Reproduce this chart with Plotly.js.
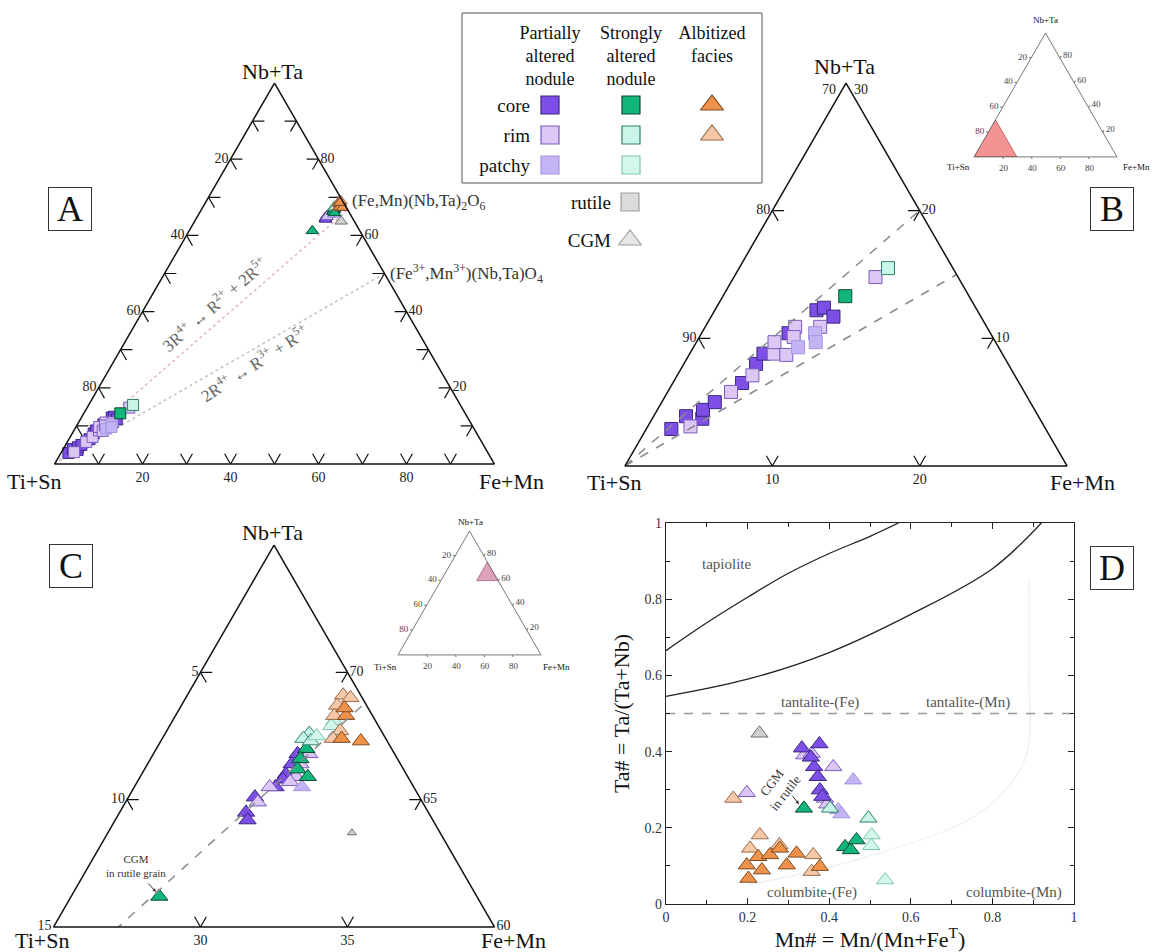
<!DOCTYPE html>
<html><head><meta charset="utf-8">
<script src="https://cdn.plot.ly/plotly-3.0.1.min.js"></script>
<style>html,body{margin:0;padding:0;background:#fff}#chart{width:1154px;height:952px}
#chart svg text{font-family:'Liberation Serif','Times New Roman',serif !important}</style>
</head><body><div id="chart"></div>
<script>
// ===================== DATA =====================
// Rutile (squares), at.% Nb+Ta / Ti+Sn / Fe+Mn  (panels A and B)
const rutPCoreNbTa = [2.9, 3.9, 3.7, 4.4, 5.0, 6.5, 8.0, 8.8, 10.4, 12.2, 12.4, 11.7];
const rutPCoreTiSn = [95.4, 93.9, 92.9, 92.5, 91.4, 88.8, 87.1, 86.2, 83.7, 80.9, 80.3, 80.0];
const rutPCoreFeMn = [1.7, 2.2, 3.4, 3.1, 3.6, 4.7, 4.9, 5.0, 5.9, 6.9, 7.3, 8.3];
const rutPRimNbTa = [3.1, 5.8, 7.1, 8.8, 9.7, 8.7, 10.9, 10.1, 10.9, 14.8];
const rutPRimTiSn = [94.0, 89.9, 87.8, 85.5, 85.0, 84.7, 83.0, 83.5, 81.3, 75.6];
const rutPRimFeMn = [2.9, 4.3, 5.1, 5.7, 5.3, 6.6, 6.1, 6.4, 7.8, 9.6];
const rutPPatchyNbTa = [9.3, 10.4, 9.7];
const rutPPatchyTiSn = [83.6, 81.9, 82.2];
const rutPPatchyFeMn = [7.1, 7.7, 8.1];
const rutSCoreNbTa = [13.3], rutSCoreTiSn = [78.4], rutSCoreFeMn = [8.3];
const rutSRimNbTa = [15.5], rutSRimTiSn = [74.4], rutSRimFeMn = [10.1];

// CGM (triangles), at.% (panels A and C)
const cgmPCoreNbTa = [66.8, 66.4, 66.0, 65.8, 65.5, 65.1, 64.5, 64.2];
const cgmPCoreTiSn = [3.3, 3.7, 4.1, 4.3, 4.7, 5.6, 6.2, 6.3];
const cgmPCoreFeMn = [29.9, 29.9, 29.9, 29.9, 29.8, 29.3, 29.3, 29.5];
const cgmPRimNbTa = [66.8, 66.4, 65.9, 65.7, 65.5, 64.9];
const cgmPRimTiSn = [2.9, 3.4, 3.8, 4.1, 4.9, 5.6];
const cgmPRimFeMn = [30.3, 30.2, 30.3, 30.2, 29.6, 29.5];
const cgmPPatchyNbTa = [65.5], cgmPPatchyTiSn = [3.8], cgmPPatchyFeMn = [30.7];
const cgmSCoreNbTa = [67.0, 66.6, 66.2, 65.9, 61.2];
const cgmSCoreTiSn = [2.9, 3.3, 3.6, 3.4, 10.8];
const cgmSCoreFeMn = [30.1, 30.1, 30.2, 30.7, 28.0];
const cgmSRimNbTa = [67.6, 67.4, 67.3];
const cgmSRimTiSn = [2.5, 2.8, 2.6];
const cgmSRimFeMn = [29.9, 29.8, 30.1];
const cgmSPatchyNbTa = [68.1, 67.9, 67.5];
const cgmSPatchyTiSn = [1.4, 1.6, 2.3];
const cgmSPatchyFeMn = [30.5, 30.5, 30.2];
const cgmACoreNbTa = [68.3, 67.4, 67.3, 68.6];
const cgmACoreTiSn = [0.9, 1.5, 0.9, 0.8];
const cgmACoreFeMn = [30.8, 31.1, 31.8, 30.6];
const cgmARimNbTa = [69.1, 69.0, 68.7, 67.7, 68.3, 67.4];
const cgmARimTiSn = [0.6, 0.4, 1.0, 1.4, 1.3, 1.8];
const cgmARimFeMn = [30.3, 30.6, 30.3, 30.9, 30.4, 30.8];
const cgmOtherNbTa = [63.7], cgmOtherTiSn = [3.0], cgmOtherFeMn = [33.3];

// Substitution vectors / trend lines (end compositions)
const vec3RNbTa = [0, 66.7], vec3RTiSn = [100, 0], vec3RFeMn = [0, 33.3];
const vec2RNbTa = [0, 50], vec2RTiSn = [100, 0], vec2RFeMn = [0, 50];
const trendCNbTa = [0, 68.8], trendCTiSn = [100, 0], trendCFeMn = [0, 31.2];
// zoomed fields shown on the insets
const zoomBNbTa = [0, 30, 0, 0], zoomBTiSn = [100, 70, 70, 100], zoomBFeMn = [0, 0, 30, 0];
const zoomCNbTa = [60, 75, 60, 60], zoomCTiSn = [15, 0, 0, 15], zoomCFeMn = [25, 25, 40, 25];

// Panel D: Mn# vs Ta#
const dPCoreMn = [0.333, 0.376, 0.363, 0.372, 0.377, 0.383, 0.355];
const dPCoreTa = [0.409, 0.420, 0.360, 0.334, 0.299, 0.282, 0.385];
const dPRimMn = [0.339, 0.357, 0.410, 0.390, 0.198, 0.395];
const dPRimTa = [0.391, 0.395, 0.360, 0.277, 0.292, 0.262];
const dPPatchyMn = [0.459, 0.422, 0.430];
const dPPatchyTa = [0.325, 0.247, 0.236];
const dSCoreMn = [0.338, 0.439, 0.453, 0.467];
const dSCoreTa = [0.251, 0.150, 0.142, 0.168];
const dSRimMn = [0.402, 0.496];
const dSRimTa = [0.251, 0.225];
const dSPatchyMn = [0.504, 0.503, 0.537];
const dSPatchyTa = [0.181, 0.153, 0.063];
const dACoreMn = [0.198, 0.202, 0.226, 0.235, 0.255, 0.279, 0.296, 0.320, 0.377];
const dACoreTa = [0.102, 0.067, 0.124, 0.089, 0.129, 0.146, 0.102, 0.133, 0.098];
const dARimMn = [0.206, 0.278, 0.361, 0.357, 0.230, 0.165];
const dARimTa = [0.146, 0.155, 0.129, 0.085, 0.181, 0.277];
const dOtherMn = [0.229], dOtherTa = [0.448];
// field boundaries
const tapUpperMn = [0, 0.1, 0.2, 0.3, 0.4, 0.5, 0.57];
const tapUpperTa = [0.665, 0.738, 0.805, 0.868, 0.920, 0.965, 1.0];
const tapLowerMn = [0, 0.2, 0.4, 0.6, 0.8, 0.92];
const tapLowerTa = [0.545, 0.59, 0.66, 0.76, 0.88, 1.0];
const divMn = [0, 1], divTa = [0.5, 0.5];
const faintMn = [0.2, 0.48, 0.77, 0.88, 0.89, 0.89];
const faintTa = [0.05, 0.12, 0.24, 0.38, 0.6, 0.85];

// Tick values / labels
const stubTicksA = [10, 20, 30, 40, 50, 60, 70, 80, 90];
const ticksFull = [20, 40, 60, 80], labelsFull = ['80', '60', '40', '20'];
const ticksBa = [10, 20], labelsBa = ['90', '80'];
const ticksBb = [80, 90], labelsBb = ['20', '10'];
const ticksBc = [10, 20], labelsBc = ['20', '10'];
const apexLabelsB = ['70', '30'];
const ticksCa = [60, 65, 70], labelsCa = ['15', '10', '5'];
const ticksCb = [5, 10], labelsCb = ['35', '30'];
const ticksCc = [30, 35, 40], labelsCc = ['70', '65', '60'];
const apexNames = ['Nb+Ta', 'Ti+Sn', 'Fe+Mn'];

// Legend key
const legendGroups = ['Partially<br>altered<br>nodule', 'Strongly<br>altered<br>nodule', 'Albitized<br>facies<br>&nbsp;'];
const legendRows = ['core', 'rim', 'patchy'];
const legendKeys = ['rutile', 'CGM'];

// ===================== STYLE =====================
const FONT = 'Liberation Serif, Times New Roman, serif';
const st = {
  pCore: {fill: '#7d4fe6', line: '#3b2680'},
  pRim: {fill: '#dcc6f4', line: '#7a5cc0'},
  pPatchy: {fill: '#c4b4f6', line: '#a694e0'},
  sCore: {fill: '#12b57a', line: '#0b4a32'},
  sRim: {fill: '#c9f6e8', line: '#2f8070'},
  sPatchy: {fill: '#d4f7ed', line: '#7cc7b0'},
  aCore: {fill: '#f0924a', line: '#7a4a22'},
  aRim: {fill: '#f6c8a8', line: '#9a6a4a'},
  gray: {fill: '#cfcfcf', line: '#707070'}
};
const W = 1154, H = 952;
const px = x => x / W, py = y => 1 - y / H;

function tMark(sub, A, B, C, s, symbol, size) {
  return {type: 'scatterternary', subplot: sub, a: A, b: B, c: C, mode: 'markers',
    cliponaxis: false, hoverinfo: 'skip', showlegend: false,
    marker: {symbol: symbol, size: size, color: s.fill, line: {color: s.line, width: 1}}};
}
function tLine(sub, A, B, C, color, dash, width) {
  return {type: 'scatterternary', subplot: sub, a: A, b: B, c: C, mode: 'lines',
    hoverinfo: 'skip', showlegend: false, line: {color: color, dash: dash, width: width}};
}
// tick stubs along the grid directions
function stubs(sub, cfg, L) {
  const A = [], B = [], C = [];
  const seg = (p, q) => { A.push(p[0], q[0], null); B.push(p[1], q[1], null); C.push(p[2], q[2], null); };
  cfg.a.forEach(v => { const a = v, c = cfg.cmin, b = 100 - a - c; seg([a, b, c], [a, b - L, c + L]); seg([a, b, c], [a - L, b, c + L]); });
  cfg.b.forEach(v => { const a = cfg.amin, b = v, c = 100 - a - b; seg([a, b, c], [a + L, b - L, c]); seg([a, b, c], [a + L, b, c - L]); });
  cfg.c.forEach(v => { const b = cfg.bmin, c = v, a = 100 - b - c; seg([a, b, c], [a, b + L, c - L]); seg([a, b, c], [a - L, b + L, c]); });
  return {type: 'scatterternary', subplot: sub, a: A, b: B, c: C, mode: 'lines', hoverinfo: 'skip',
    showlegend: false, cliponaxis: false, line: {color: '#111', width: 1.2}};
}

const traces = [];
// ---------- Panel A ----------
traces.push(tLine('ternary', vec3RNbTa, vec3RTiSn, vec3RFeMn, '#e2b4c4', 'dot', 1.5));
traces.push(tLine('ternary', vec2RNbTa, vec2RTiSn, vec2RFeMn, '#c8c8c8', 'dot', 1.5));
traces.push(stubs('ternary', {a: stubTicksA, b: stubTicksA, c: stubTicksA, amin: 0, bmin: 0, cmin: 0}, 2.7));
[[rutPCoreNbTa, rutPCoreTiSn, rutPCoreFeMn, st.pCore], [rutPRimNbTa, rutPRimTiSn, rutPRimFeMn, st.pRim],
 [rutPPatchyNbTa, rutPPatchyTiSn, rutPPatchyFeMn, st.pPatchy], [rutSCoreNbTa, rutSCoreTiSn, rutSCoreFeMn, st.sCore],
 [rutSRimNbTa, rutSRimTiSn, rutSRimFeMn, st.sRim]].forEach(d => {
  traces.push(tMark('ternary', d[0], d[1], d[2], d[3], 'square', 11));
  traces.push(tMark('ternary2', d[0], d[1], d[2], d[3], 'square', 13));
});
const cgmSets = [[cgmOtherNbTa, cgmOtherTiSn, cgmOtherFeMn, st.gray],
 [cgmPCoreNbTa, cgmPCoreTiSn, cgmPCoreFeMn, st.pCore], [cgmPRimNbTa, cgmPRimTiSn, cgmPRimFeMn, st.pRim],
 [cgmPPatchyNbTa, cgmPPatchyTiSn, cgmPPatchyFeMn, st.pPatchy], [cgmSCoreNbTa, cgmSCoreTiSn, cgmSCoreFeMn, st.sCore],
 [cgmSRimNbTa, cgmSRimTiSn, cgmSRimFeMn, st.sRim], [cgmSPatchyNbTa, cgmSPatchyTiSn, cgmSPatchyFeMn, st.sPatchy],
 [cgmARimNbTa, cgmARimTiSn, cgmARimFeMn, st.aRim], [cgmACoreNbTa, cgmACoreTiSn, cgmACoreFeMn, st.aCore]];
cgmSets.forEach((d, i) => {
  traces.push(tMark('ternary', d[0], d[1], d[2], d[3], 'triangle-up', 11));
  traces.push(tMark('ternary3', d[0], d[1], d[2], d[3], 'triangle-up', i === 0 ? 8 : 15));
});
// ---------- Panel B lines & stubs ----------
traces.push(tLine('ternary2', vec3RNbTa, vec3RTiSn, vec3RFeMn, '#8c8c8c', 'dash', 1.5));
traces.push(tLine('ternary2', vec2RNbTa, vec2RTiSn, vec2RFeMn, '#8c8c8c', 'dash', 1.5));
traces.push(stubs('ternary2', {a: ticksBa, b: ticksBb, c: ticksBc, amin: 0, bmin: 70, cmin: 0}, 0.8));
// ---------- Panel C lines & stubs ----------
traces.push(tLine('ternary3', trendCNbTa, trendCTiSn, trendCFeMn, '#8c8c8c', 'dash', 1.5));
traces.push(stubs('ternary3', {a: [65, 70], b: ticksCb, c: [30, 35], amin: 60, bmin: 0, cmin: 25}, 0.4));
// ---------- insets ----------
traces.push({type: 'scatterternary', subplot: 'ternary4', a: zoomBNbTa, b: zoomBTiSn, c: zoomBFeMn, mode: 'lines',
  fill: 'toself', fillcolor: 'rgba(238,112,112,0.75)', line: {color: '#c05050', width: 0.8}, hoverinfo: 'skip', showlegend: false});
traces.push({type: 'scatterternary', subplot: 'ternary5', a: zoomCNbTa, b: zoomCTiSn, c: zoomCFeMn, mode: 'lines',
  fill: 'toself', fillcolor: 'rgba(214,140,170,0.8)', line: {color: '#a06080', width: 0.8}, hoverinfo: 'skip', showlegend: false});

// ---------- Panel D ----------
const dLine = (x, y, color, width, dash, shape) => ({type: 'scatter', x: x, y: y, mode: 'lines', xaxis: 'x', yaxis: 'y',
  hoverinfo: 'skip', showlegend: false, line: {color: color, width: width, dash: dash, shape: shape, smoothing: 1}});
traces.push(dLine(faintMn, faintTa, '#f2f2f2', 1.5, 'solid', 'spline'));
traces.push(dLine(tapUpperMn, tapUpperTa, '#222', 1.3, 'solid', 'spline'));
traces.push(dLine(tapLowerMn, tapLowerTa, '#222', 1.3, 'solid', 'spline'));
traces.push(dLine(divMn, divTa, '#999', 1.3, 'dash', 'linear'));
const dMark = (x, y, s, size) => ({type: 'scatter', x: x, y: y, mode: 'markers', xaxis: 'x', yaxis: 'y', cliponaxis: false,
  hoverinfo: 'skip', showlegend: false, marker: {symbol: 'triangle-up', size: size, color: s.fill, line: {color: s.line, width: 1}}});
[[dOtherMn, dOtherTa, st.gray], [dARimMn, dARimTa, st.aRim], [dACoreMn, dACoreTa, st.aCore],
 [dPRimMn, dPRimTa, st.pRim], [dPPatchyMn, dPPatchyTa, st.pPatchy], [dPCoreMn, dPCoreTa, st.pCore],
 [dSRimMn, dSRimTa, st.sRim], [dSPatchyMn, dSPatchyTa, st.sPatchy], [dSCoreMn, dSCoreTa, st.sCore]]
 .forEach(d => traces.push(dMark(d[0], d[1], d[2], 15)));

// ---------- Legend key ----------
const legendCells = [[0, 0, st.pCore, 'square'], [1, 0, st.sCore, 'square'], [2, 0, st.aCore, 'triangle-up'],
  [0, 1, st.pRim, 'square'], [1, 1, st.sRim, 'square'], [2, 1, st.aRim, 'triangle-up'],
  [0, 2, st.pPatchy, 'square'], [1, 2, st.sPatchy, 'square']];
legendCells.forEach(c => traces.push({type: 'scatter', x: [legendGroups[c[0]]], y: [legendRows[c[1]]], xaxis: 'x2', yaxis: 'y2',
  mode: 'markers', hoverinfo: 'skip', showlegend: false, cliponaxis: false,
  marker: {symbol: c[3], size: c[3] === 'square' ? 18 : 20, color: c[2].fill, line: {color: c[2].line, width: 1.2}}}));
traces.push({type: 'scatter', x: [0, 0], y: legendKeys, xaxis: 'x3', yaxis: 'y3', mode: 'markers', hoverinfo: 'skip',
  showlegend: false, cliponaxis: false,
  marker: {symbol: ['square', 'triangle-up'], size: [18, 20], color: ['#cdcdcd', '#dedede'], line: {color: '#777', width: 1.2}}});

// ===================== LAYOUT =====================
function tAxis(min, vals, texts, fsize, lw) {
  return {min: min, tickmode: 'array', tickvals: vals, ticktext: texts, ticks: '', showgrid: false,
    linecolor: '#111', linewidth: lw, tickfont: {size: fsize, family: FONT, color: '#222'},
    title: {text: ''}};
}
function tInAxis() {
  const ax = tAxis(0, ticksFull, labelsFull, 9, 0.8);
  ax.ticks = 'outside'; ax.ticklen = 2; ax.tickcolor = '#666'; ax.linecolor = '#555';
  ax.tickfont.color = '#444';
  return ax;
}
const ann = (x, y, t, size, extra) => Object.assign({x: px(x), y: py(y), xref: 'paper', yref: 'paper', text: t,
  showarrow: false, xanchor: 'center', yanchor: 'middle', font: {size: size, family: FONT, color: '#111'}}, extra || {});
const boxLabel = (x, y, t) => ann(x, y, t, 36, {bordercolor: '#333', borderwidth: 1, width: 40, height: 40, bgcolor: '#fff'});
const dAnn = (x, y, t, extra) => Object.assign({x: x, y: y, xref: 'x', yref: 'y', text: t, showarrow: false,
  xanchor: 'center', yanchor: 'middle', font: {size: 15, family: FONT, color: '#555'}}, extra || {});

const layout = {
  width: W, height: H, margin: {l: 0, r: 0, t: 0, b: 0}, showlegend: false,
  paper_bgcolor: '#fff', plot_bgcolor: '#fff', font: {family: FONT, color: '#111'},
  ternary: {domain: {x: [px(54), px(495)], y: [py(464), py(83)]}, sum: 100, bgcolor: 'rgba(0,0,0,0)',
    aaxis: tAxis(0, ticksFull, labelsFull, 14, 1.5), baxis: tAxis(0, ticksFull, labelsFull, 14, 1.5), caxis: tAxis(0, ticksFull, labelsFull, 14, 1.5)},
  ternary2: {domain: {x: [px(624), px(1068)], y: [py(466), py(83)]}, sum: 100, bgcolor: 'rgba(0,0,0,0)',
    aaxis: tAxis(0, ticksBa, labelsBa, 14, 1.5), baxis: tAxis(70, ticksBb, labelsBb, 14, 1.5), caxis: tAxis(0, ticksBc, labelsBc, 14, 1.5)},
  ternary3: {domain: {x: [px(52), px(496)], y: [py(927), py(545)]}, sum: 100, bgcolor: 'rgba(0,0,0,0)',
    aaxis: tAxis(60, ticksCa, labelsCa, 14, 1.5), baxis: tAxis(0, ticksCb, labelsCb, 14, 1.5), caxis: tAxis(25, ticksCc, labelsCc, 14, 1.5)},
  ternary4: {domain: {x: [px(974), px(1117)], y: [py(157), py(33)]}, sum: 100, bgcolor: 'rgba(0,0,0,0)',
    aaxis: tInAxis(), baxis: tInAxis(), caxis: tInAxis()},
  ternary5: {domain: {x: [px(398), px(541)], y: [py(655), py(531)]}, sum: 100, bgcolor: 'rgba(0,0,0,0)',
    aaxis: tInAxis(), baxis: tInAxis(), caxis: tInAxis()},
  xaxis: {domain: [px(666), px(1074)], range: [0, 1], anchor: 'y', showgrid: false, zeroline: false,
    showline: true, mirror: 'allticks', linecolor: '#222', linewidth: 1.3, ticks: 'inside', ticklen: 6, tickcolor: '#222',
    dtick: 0.2, minor: {dtick: 0.1, ticks: 'inside', ticklen: 4, tickcolor: '#222'},
    tickfont: {size: 14, family: FONT, color: '#333'},
    title: {text: 'Mn# = Mn/(Mn+Fe<sup>T</sup>)', font: {size: 22, family: FONT}, standoff: 4}},
  yaxis: {domain: [py(904), py(523)], range: [0, 1], anchor: 'x', showgrid: false, zeroline: false,
    showline: true, mirror: 'allticks', linecolor: '#222', linewidth: 1.3, ticks: 'inside', ticklen: 6, tickcolor: '#222',
    dtick: 0.2, minor: {dtick: 0.1, ticks: 'inside', ticklen: 4, tickcolor: '#222'},
    tickfont: {size: 14, family: FONT, color: '#333'},
    title: {text: 'Ta# = Ta/(Ta+Nb)', font: {size: 22, family: FONT}, standoff: 8}},
  xaxis2: {domain: [px(535), px(752)], anchor: 'y2', type: 'category', categoryarray: legendGroups,
    range: [-0.185, 2.494], side: 'top', showgrid: false, zeroline: false, showline: false, ticks: '',
    tickfont: {size: 18, family: FONT, color: '#111'}, fixedrange: true},
  yaxis2: {domain: [py(180), py(90)], anchor: 'x2', type: 'category', categoryarray: legendRows,
    range: [2.5, -0.5], showgrid: false, zeroline: false, showline: false, ticks: '', ticklabelstandoff: 4,
    tickfont: {size: 19, family: FONT, color: '#111'}, fixedrange: true},
  xaxis3: {domain: [px(620), px(640)], anchor: 'y3', range: [-0.5, 0.5], visible: false, fixedrange: true},
  yaxis3: {domain: [py(259), py(183)], anchor: 'x3', type: 'category', categoryarray: legendKeys,
    range: [1.5, -0.5], showgrid: false, zeroline: false, showline: false, ticks: '', ticklabelstandoff: 8,
    tickfont: {size: 19, family: FONT, color: '#111'}, fixedrange: true},
  shapes: [{type: 'rect', xref: 'paper', yref: 'paper', x0: px(462), x1: px(762), y0: py(183), y1: py(13),
    line: {color: '#555', width: 1}}],
  annotations: [
    boxLabel(70, 209, 'A'), boxLabel(1112, 209, 'B'), boxLabel(71, 566, 'C'), boxLabel(1112, 568, 'D'),
    // apex names of the ternaries
    ann(272, 72, apexNames[0], 22), ann(34, 481, apexNames[1], 22), ann(511, 481, apexNames[2], 22),
    ann(844, 67, apexNames[0], 22), ann(614, 482, apexNames[1], 22), ann(1082, 482, apexNames[2], 22),
    ann(272, 532, apexNames[0], 22), ann(42, 940, apexNames[1], 22), ann(513, 940, apexNames[2], 22),
    ann(1045, 20, apexNames[0], 9), ann(958, 167, apexNames[1], 9), ann(1136, 167, apexNames[2], 9),
    ann(470, 522, apexNames[0], 9), ann(385, 667, apexNames[1], 9), ann(556, 667, apexNames[2], 9),
    // apex values of the zoomed panel B (Ti+Sn left, Nb+Ta right)
    ann(829, 89, apexLabelsB[0], 14, {font: {size: 14, family: FONT, color: '#222'}}),
    ann(861, 89, apexLabelsB[1], 14, {font: {size: 14, family: FONT, color: '#222'}}),
    ann(350, 202, '(Fe,Mn)(Nb,Ta)<sub>2</sub>O<sub>6</sub>', 17, {xanchor: 'left', font: {size: 17, family: FONT, color: '#333'}}),
    ann(388, 273, '(Fe<sup>3+</sup>,Mn<sup>3+</sup>)(Nb,Ta)O<sub>4</sub>', 17, {xanchor: 'left', font: {size: 17, family: FONT, color: '#333'}}),
    ann(214, 304, '3R<sup>4+</sup> ↔ R<sup>2+</sup> + 2R<sup>5+</sup>', 17, {textangle: -41, font: {size: 17, family: FONT, color: '#666'}}),
    ann(254, 363, '2R<sup>4+</sup> ↔ R<sup>3+</sup> + R<sup>5+</sup>', 17, {textangle: -33, font: {size: 17, family: FONT, color: '#666'}}),
    ann(136, 866, 'CGM<br>in rutile grain', 11, {font: {size: 11, family: FONT, color: '#333'}}),
    {x: px(156), y: py(892), xref: 'paper', yref: 'paper', text: '', showarrow: true, ax: -9, ay: -10,
      arrowhead: 2, arrowsize: 0.7, arrowwidth: 1, arrowcolor: '#333'},
    dAnn(0.148, 0.893, 'tapiolite'), dAnn(0.377, 0.528, 'tantalite-(Fe)'), dAnn(0.740, 0.528, 'tantalite-(Mn)'),
    dAnn(0.359, 0.030, 'columbite-(Fe)'), dAnn(0.852, 0.030, 'columbite-(Mn)'),
    dAnn(0.275, 0.305, 'CGM<br>in rutile', {textangle: -52, font: {size: 13, family: FONT, color: '#333'}}),
    {x: 0.326, y: 0.262, xref: 'x', yref: 'y', text: '', showarrow: true, ax: -8, ay: -10,
      arrowhead: 2, arrowsize: 0.7, arrowwidth: 1, arrowcolor: '#333'}
  ]
};

Plotly.newPlot('chart', traces, layout, {staticPlot: true, displayModeBar: false});
</script></body></html>
